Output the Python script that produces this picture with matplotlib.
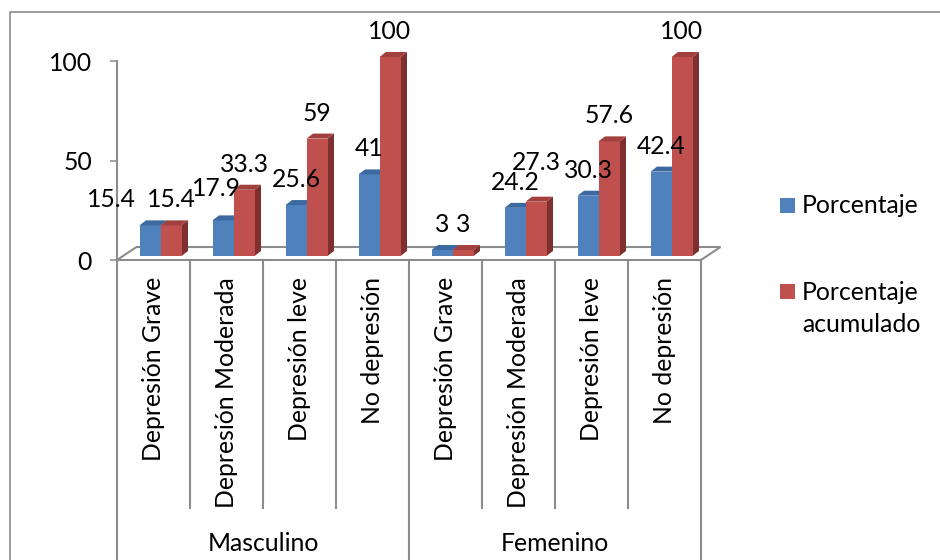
import matplotlib
matplotlib.use("Agg")
import matplotlib.pyplot as plt
from matplotlib.patches import Polygon, Rectangle
from matplotlib.lines import Line2D
from matplotlib import transforms

# ---- data -------------------------------------------------------------
groups = ["Masculino", "Femenino"]
categories = ["Depresión Grave", "Depresión Moderada", "Depresión leve", "No depresión"]
porcentaje = [15.4, 17.9, 25.6, 41, 3, 24.2, 30.3, 42.4]
porcentaje_acumulado = [15.4, 33.3, 59, 100, 3, 27.3, 57.6, 100]
series_labels = ["Porcentaje", "Porcentaje acumulado"]
y_ticks = [0, 50, 100]

plt.rcParams["font.family"] = ["Lato", "DejaVu Sans"]

W, H = 940, 560
fig = plt.figure(figsize=(W / 100, H / 100), dpi=100)
fig.patch.set_facecolor("white")

# plot area in pixels: x from 117 to 701, y (from top) from 61 to 260
ax = fig.add_axes([117 / W, (H - 260) / H, 584 / W, 199 / H])
n_cat = len(porcentaje)
ax.set_xlim(0, n_cat)
ax.set_ylim(0, 100)
ax.set_facecolor("none")

GRID = "#8c8c8c"
FS = 17.8

# pixel -> data unit conversions
ux = n_cat / 584.0
uy = 100 / 199.0

# axes styling
for s in ["top", "right"]:
    ax.spines[s].set_visible(False)
for s in ["left", "bottom"]:
    ax.spines[s].set_color(GRID)
    ax.spines[s].set_linewidth(1.5)
    ax.spines[s].set_clip_on(False)
ax.set_yticks(y_ticks)
ax.set_yticklabels([str(t) for t in y_ticks], fontsize=FS)
ax.tick_params(axis="y", direction="out", length=5, width=1.1, color=GRID, pad=13)
ax.set_xticks([])

# floor of the 3D plot
fx, fy = 19.5 * ux, 13 * uy
ax.plot([n_cat, n_cat + fx, fx, 0], [0, fy, fy, 0], color=GRID, lw=1.5,
        clip_on=False, solid_joinstyle="miter", zorder=1)

BLUE = ("#4F81BD", "#3C69A0", "#34598A")
RED = ("#C0504D", "#A1403D", "#7E302E")

bw = 21 * ux
shift_x, shift_y = 7 * ux, 4 * uy
dep_x, dep_y = 6.5 * ux, 5 * uy


def bar3d(x0, v, colors, with_side):
    front, top, side = colors
    xl = x0 + shift_x
    xr = xl + bw
    yb = shift_y
    yt = v + shift_y
    if with_side:
        ax.add_patch(Polygon([(xr, yb), (xr + dep_x, yb + dep_y), (xr + dep_x, yt + dep_y), (xr, yt)],
                             closed=True, facecolor=side, edgecolor="none", clip_on=False, zorder=3))
    ax.add_patch(Rectangle((xl, yb), bw, v, facecolor=front, edgecolor="none", clip_on=False, zorder=3))
    ax.add_patch(Polygon([(xl, yt), (xr, yt), (xr + dep_x, yt + dep_y), (xl + dep_x, yt + dep_y)],
                         closed=True, facecolor=top, edgecolor="none", clip_on=False, zorder=3))


# value label nudges (pixels) to keep labels from overlapping
blue_nudge = {0: (-39, 0), 1: (-7, 6)}
red_nudge = {5: (0, 14)}

for i in range(n_cat):
    c = i + 0.5
    bar3d(c - bw, porcentaje[i], BLUE, True)
    bar3d(c, porcentaje_acumulado[i], RED, True)
    for xc, v, nudge in ((c - bw / 2, porcentaje[i], blue_nudge.get(i, (0, 0))),
                         (c + bw / 2, porcentaje_acumulado[i], red_nudge.get(i, (0, 0)))):
        ax.annotate(f"{v:g}", xy=(xc, v), xytext=(7 + nudge[0], 22 + nudge[1]),
                    textcoords="offset pixels", ha="center", va="baseline",
                    fontsize=FS, color="black", annotation_clip=False, zorder=5)

# multi-level category axis
bt = transforms.blended_transform_factory(ax.transData, fig.transFigure)
y_axis = (H - 260) / H
for k in range(n_cat + 1):
    bottom = 0 if k % len(categories) == 0 else (H - 508) / H
    fig.add_artist(Line2D([k, k], [y_axis, bottom], transform=bt, color=GRID, lw=1.5))

for i in range(n_cat):
    fig.text(i + 0.5, (H - 277) / H, categories[i % len(categories)], transform=bt,
             rotation=90, ha="center", va="top", fontsize=FS)

for g, name in enumerate(groups):
    fig.text(g * len(categories) + len(categories) / 2, (H - 551) / H, name, transform=bt,
             ha="center", va="baseline", fontsize=FS)

# chart frame
fig.add_artist(Line2D([10 / W, 10 / W, 1], [0, (H - 12) / H, (H - 12) / H],
                      transform=fig.transFigure, color="#8a8a8a", lw=1.2))

# legend
leg_items = [(series_labels[0], BLUE[0], 213, [series_labels[0]], [213]),
             (series_labels[1], RED[0], 299, ["Porcentaje", "acumulado"], [300, 332])]
for _, col, sq_bottom, lines, baselines in leg_items:
    fig.add_artist(Rectangle((780 / W, (H - sq_bottom) / H), 15 / W, 15 / H,
                             transform=fig.transFigure, facecolor=col, edgecolor="none"))
    for txt, bl in zip(lines, baselines):
        fig.text(802 / W, (H - bl) / H, txt, ha="left", va="baseline", fontsize=FS)

fig.savefig("out.png", dpi=100)
